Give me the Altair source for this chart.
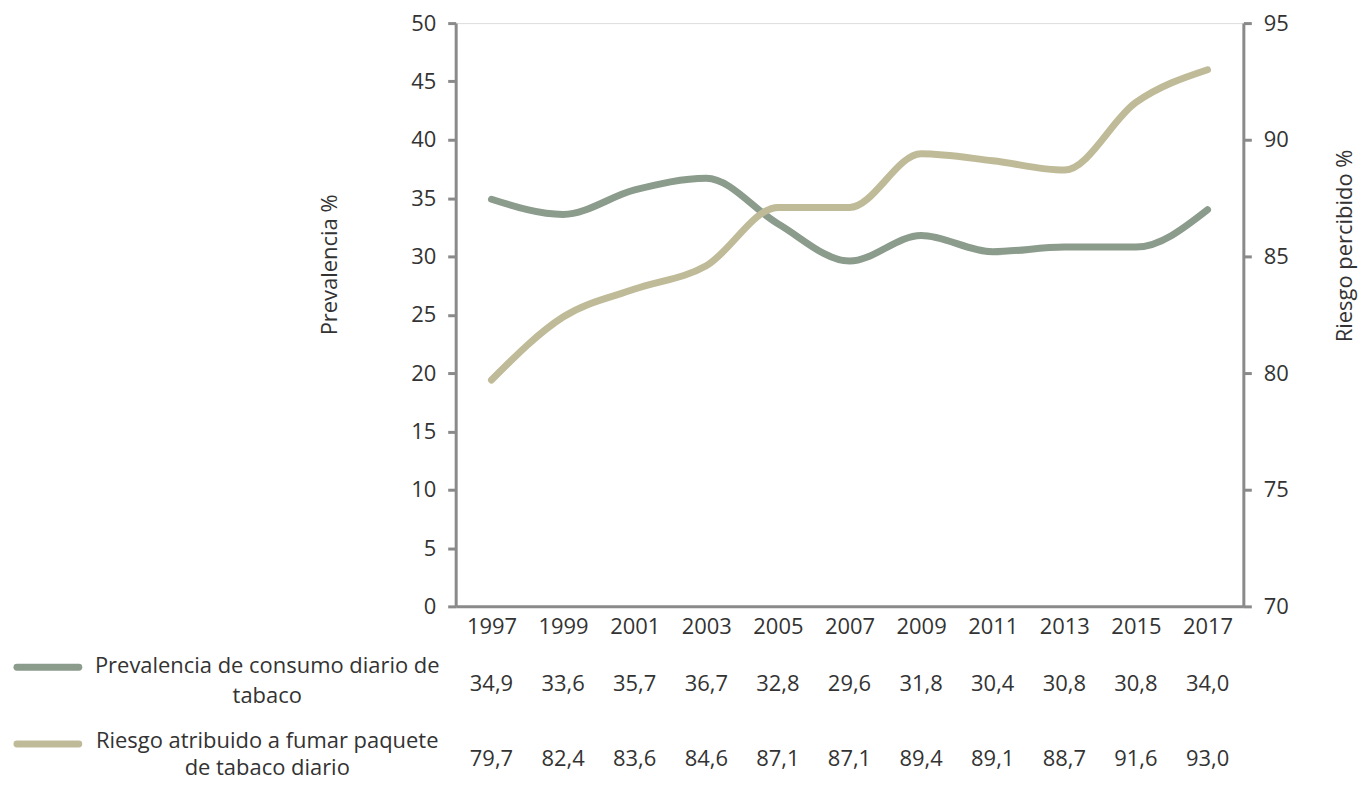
import altair as alt
import pandas as pd

years = ["1997", "1999", "2001", "2003", "2005", "2007", "2009", "2011", "2013", "2015", "2017"]
prevalencia = [34.9, 33.6, 35.7, 36.7, 32.8, 29.6, 31.8, 30.4, 30.8, 30.8, 34.0]
riesgo = [79.7, 82.4, 83.6, 84.6, 87.1, 87.1, 89.4, 89.1, 88.7, 91.6, 93.0]
legend_prev = "Prevalencia de consumo diario de\ntabaco"
legend_riesgo = "Riesgo atribuido a fumar paquete\nde tabaco diario"
left_ticks = [0, 5, 10, 15, 20, 25, 30, 35, 40, 45, 50]
right_ticks = [70, 75, 80, 85, 90, 95]
color_prev = "#8b9b8c"
color_riesgo = "#bfbb98"

FONT = "Open Sans"
FS = 22
TXT = "#333333"
AX = "#8a8a8a"

df = pd.DataFrame({"year": years, "prev": prevalencia, "riesgo": riesgo})
df["prev_lbl"] = [f"{v:.1f}".replace(".", ",") for v in prevalencia]
df["riesgo_lbl"] = [f"{v:.1f}".replace(".", ",") for v in riesgo]

X = alt.X("year:O", title=None,
          scale=alt.Scale(type="point", padding=0.5),
          axis=alt.Axis(labelAngle=0, ticks=False, labelPadding=10, domainColor=AX,
                        domainWidth=3, labelFont=FONT, labelFontSize=FS, labelColor=TXT))

base = alt.Chart(df)

line_prev = base.mark_line(color=color_prev, strokeWidth=7, interpolate="monotone", strokeCap="round").encode(
    x=X,
    y=alt.Y("prev:Q", scale=alt.Scale(domain=[0, 50], nice=False),
            axis=alt.Axis(orient="left", values=left_ticks, title="Prevalencia %",
                          titleX=-127, titleY=242, titleAngle=270, titleAlign="center",
                          titleBaseline="middle", titleFont=FONT, titleFontSize=FS,
                          titleFontWeight="normal", titleColor=TXT,
                          labelFont=FONT, labelFontSize=FS, labelColor=TXT, labelPadding=12,
                          tickSize=8, tickWidth=3, tickColor=AX, domainColor=AX, domainWidth=3,
                          grid=False)),
)

line_riesgo = base.mark_line(color=color_riesgo, strokeWidth=7, interpolate="monotone", strokeCap="round").encode(
    x=X,
    y=alt.Y("riesgo:Q", scale=alt.Scale(domain=[70, 95], nice=False),
            axis=alt.Axis(orient="right", values=right_ticks, title="Riesgo percibido %",
                          titleX=101, titleY=223, titleAngle=270, titleAlign="center",
                          titleBaseline="middle", titleFont=FONT, titleFontSize=FS,
                          titleFontWeight="normal", titleColor=TXT,
                          labelFont=FONT, labelFontSize=FS, labelColor=TXT, labelPadding=12,
                          tickSize=8, tickWidth=3, tickColor=AX, domainColor=AX, domainWidth=3,
                          grid=False)),
)

text_prev = base.mark_text(font=FONT, fontSize=FS, color=TXT, baseline="middle").encode(
    x=X, y=alt.value(663), text="prev_lbl:N")
text_riesgo = base.mark_text(font=FONT, fontSize=FS, color=TXT, baseline="middle").encode(
    x=X, y=alt.value(738), text="riesgo_lbl:N")

leg_df1 = pd.DataFrame({"lbl": [legend_prev]})
leg_df2 = pd.DataFrame({"lbl": [legend_riesgo]})

leg_text1 = alt.Chart(leg_df1).mark_text(font=FONT, fontSize=FS, color=TXT, align="center",
                                         baseline="middle", lineBreak="\n", lineHeight=30).encode(
    x=alt.value(-189), y=alt.value(645), text="lbl:N")
leg_text2 = alt.Chart(leg_df2).mark_text(font=FONT, fontSize=FS, color=TXT, align="center",
                                         baseline="middle", lineBreak="\n", lineHeight=27).encode(
    x=alt.value(-189), y=alt.value(720), text="lbl:N")
leg_rule1 = alt.Chart(leg_df1).mark_rule(color=color_prev, strokeWidth=7, strokeCap="round").encode(
    x=alt.value(-440), x2=alt.value(-378), y=alt.value(646))
leg_rule2 = alt.Chart(leg_df2).mark_rule(color=color_riesgo, strokeWidth=7, strokeCap="round").encode(
    x=alt.value(-440), x2=alt.value(-378), y=alt.value(723))

chart = alt.layer(
    line_prev, line_riesgo, text_prev, text_riesgo, leg_rule1, leg_rule2, leg_text1, leg_text2
).resolve_scale(y="independent").properties(
    width=790, height=585,
    padding={"left": 449, "top": 14, "right": 117, "bottom": 172},
    autosize=alt.AutoSizeParams(type="none"),
).configure_view(strokeWidth=0).configure(background="white")

chart.save("out.html", embed_options={"renderer": "svg", "actions": False})
